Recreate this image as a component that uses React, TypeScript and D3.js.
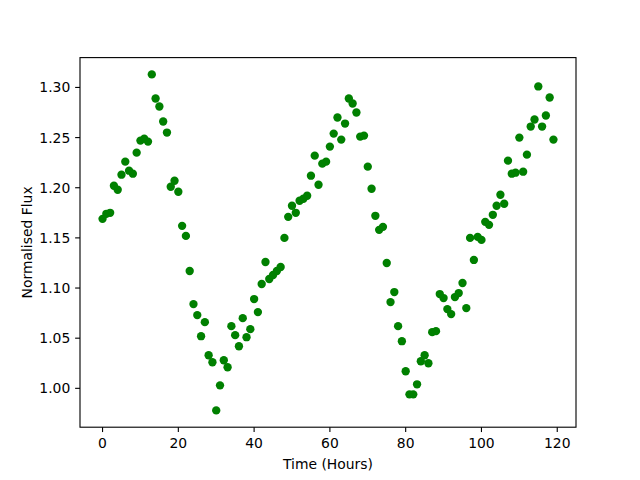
import React from "react";
import * as d3 from "d3";

const hours: number[] = [
  0, 1, 2, 3, 4, 5, 6, 7, 8, 9, 10, 11, 12, 13, 14, 15, 16, 17, 18, 19,
  20, 21, 22, 23, 24, 25, 26, 27, 28, 29, 30, 31, 32, 33, 34, 35, 36, 37, 38, 39,
  40, 41, 42, 43, 44, 45, 46, 47, 48, 49, 50, 51, 52, 53, 54, 55, 56, 57, 58, 59,
  60, 61, 62, 63, 64, 65, 66, 67, 68, 69, 70, 71, 72, 73, 74, 75, 76, 77, 78, 79,
  80, 81, 82, 83, 84, 85, 86, 87, 88, 89, 90, 91, 92, 93, 94, 95, 96, 97, 98, 99,
  100, 101, 102, 103, 104, 105, 106, 107, 108, 109, 110, 111, 112, 113, 114, 115, 116, 117, 118, 119,
];

const flux: number[] = [
  1.169, 1.174, 1.175, 1.202, 1.198, 1.213, 1.226, 1.217, 1.214, 1.235,
  1.247, 1.249, 1.246, 1.313, 1.289, 1.281, 1.266, 1.255, 1.201, 1.207,
  1.196, 1.162, 1.152, 1.117, 1.084, 1.073, 1.052, 1.066, 1.033, 1.026,
  0.978, 1.003, 1.028, 1.021, 1.062, 1.053, 1.042, 1.070, 1.051, 1.059,
  1.089, 1.076, 1.104, 1.126, 1.109, 1.113, 1.117, 1.121, 1.150, 1.171,
  1.182, 1.175, 1.187, 1.189, 1.192, 1.212, 1.232, 1.203, 1.224, 1.226,
  1.241, 1.254, 1.270, 1.248, 1.264, 1.289, 1.284, 1.275, 1.251, 1.252,
  1.221, 1.199, 1.172, 1.158, 1.161, 1.125, 1.086, 1.096, 1.062, 1.047,
  1.017, 0.994, 0.994, 1.004, 1.027, 1.033, 1.025, 1.056, 1.057, 1.094,
  1.090, 1.079, 1.074, 1.091, 1.095, 1.105, 1.080, 1.150, 1.128, 1.151,
  1.148, 1.166, 1.163, 1.173, 1.182, 1.193, 1.184, 1.227, 1.214, 1.215,
  1.250, 1.216, 1.233, 1.261, 1.268, 1.301, 1.261, 1.272, 1.290, 1.248,
];

const xTicks: number[] = [0, 20, 40, 60, 80, 100, 120];
const yTicks: number[] = [1.0, 1.05, 1.1, 1.15, 1.2, 1.25, 1.3];

const xLabel = "Time (Hours)";
const yLabel = "Normalised Flux";

const W = 640;
const H = 480;
const left = 80;
const right = 576;
const top = 57.6;
const bottom = 427.2;

function padded(ext: [number, number]): [number, number] {
  const m = (ext[1] - ext[0]) * 0.05;
  return [ext[0] - m, ext[1] + m];
}

export default function App() {
  const x = d3.scaleLinear().domain(padded(d3.extent(hours) as [number, number])).range([left, right]);
  const y = d3.scaleLinear().domain(padded(d3.extent(flux) as [number, number])).range([bottom, top]);
  const font = "'DejaVu Sans', sans-serif";
  const fs = 13.9;
  const tickLen = 4.86;
  return (
    <svg width={W} height={H} style={{ position: "absolute", left: 0, top: 0, background: "#fff" }}>
      <rect x={0} y={0} width={W} height={H} fill="#fff" />
      {hours.map((h, i) => (
        <circle key={i} cx={x(h)} cy={y(flux[i])} r={4.17} fill="#008000" />
      ))}
      <rect x={left} y={top} width={right - left} height={bottom - top} fill="none" stroke="#000" strokeWidth={1.11} />
      {xTicks.map((t) => (
        <g key={"x" + t}>
          <line x1={x(t)} x2={x(t)} y1={bottom} y2={bottom + tickLen} stroke="#000" strokeWidth={1.11} />
          <text x={x(t)} y={bottom + tickLen + 4.86 + 10.6} textAnchor="middle" fontFamily={font} fontSize={fs} fill="#000">
            {t}
          </text>
        </g>
      ))}
      {yTicks.map((t) => (
        <g key={"y" + t}>
          <line x1={left - tickLen} x2={left} y1={y(t)} y2={y(t)} stroke="#000" strokeWidth={1.11} />
          <text x={left - tickLen - 4.86} y={y(t)} dy="0.36em" textAnchor="end" fontFamily={font} fontSize={fs} fill="#000">
            {t.toFixed(2)}
          </text>
        </g>
      ))}
      <text x={(left + right) / 2} y={468.5} textAnchor="middle" fontFamily={font} fontSize={fs} fill="#000">
        {xLabel}
      </text>
      <text
        transform={`translate(31.5, ${(top + bottom) / 2}) rotate(-90)`}
        textAnchor="middle"
        fontFamily={font}
        fontSize={fs}
        fill="#000"
      >
        {yLabel}
      </text>
    </svg>
  );
}
